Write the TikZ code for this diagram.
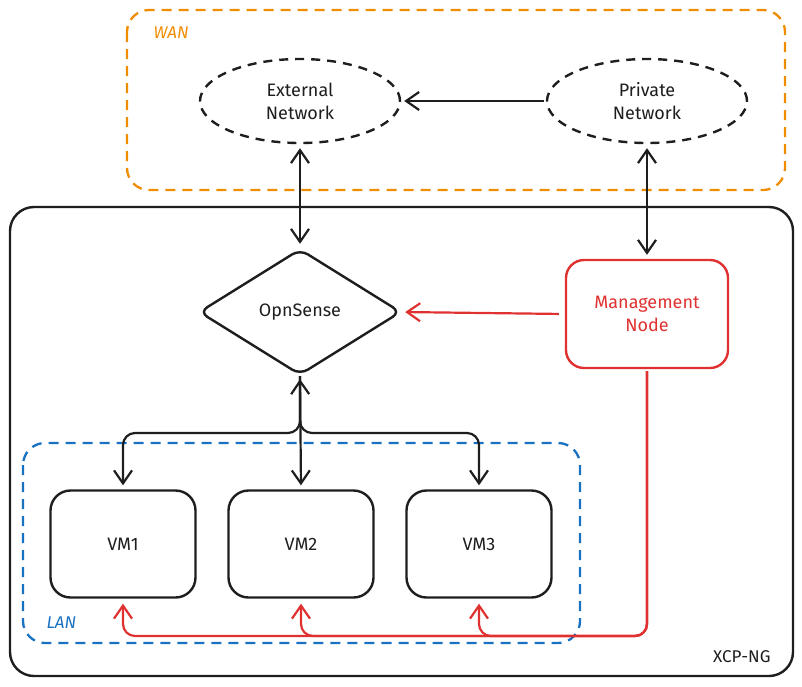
\documentclass[tikz,border=0pt]{standalone}
\usepackage{fontspec}
\setmainfont{Fira Sans}
\usetikzlibrary{shapes.geometric,arrows.meta}
\definecolor{ink}{HTML}{1E1E1E}
\definecolor{wanc}{HTML}{F08C00}
\definecolor{lanc}{HTML}{1971C2}
\definecolor{mgc}{HTML}{E03131}
\tikzset{
  barb/.tip={Straight Barb[length=13pt,width=18pt,line width=2.2pt]},
  conn/.style={line width=2.2pt, draw=ink},
  dashbox/.style={line width=2.3pt, dash pattern=on 10pt off 7pt, rounded corners=22pt},
  vmbox/.style={draw=ink, line width=2.4pt, rounded corners=20pt, minimum width=145pt, minimum height=107pt, font=\fontsize{18}{21}\selectfont, text=ink},
  cloud/.style={draw=ink, ellipse, line width=2.4pt, dash pattern=on 9pt off 7pt, minimum width=200pt, minimum height=84pt, align=center, font=\fontsize{18}{23}\selectfont, text=ink},
  grp/.style={font=\itshape\fontsize{17}{20}\selectfont},
}
\begin{document}
\begin{tikzpicture}[x=1pt,y=-1pt]
\useasboundingbox (0,0) rectangle (802,686);
% group boxes
\draw[dashbox, draw=wanc] (127,10) rectangle (785,190);
\node[grp, text=wanc, anchor=west] (wanl) at (150,33) {WAN};
\draw[draw=ink, line width=2.4pt, rounded corners=24pt] (10,207) rectangle (793,676);
\node[font=\fontsize{17}{20}\selectfont, text=ink, anchor=east] (xcpl) at (774,657) {XCP-NG};
\draw[dashbox, draw=lanc] (23,443) rectangle (580,643);
\node[grp, text=lanc, anchor=west] (lanl) at (43,623) {LAN};
% nodes
\node[cloud] (ext) at (300,101) {External\\Network};
\node[cloud] (priv) at (647,101) {Private\\Network};
\node[draw=ink, line width=2.4pt, diamond, aspect=1.6, rounded corners=9pt, inner sep=0pt, minimum width=202pt, minimum height=126pt, font=\fontsize{18}{21}\selectfont, text=ink] (ops) at (300,312) {OpnSense};
\node[draw=mgc, line width=2.4pt, rounded corners=18pt, minimum width=162pt, minimum height=108pt, align=center, text=mgc, font=\fontsize{18}{23}\selectfont] (mgmt) at (647,314) {Management\\Node};
\node[vmbox] (vm1) at (123,544) {VM1};
\node[vmbox] (vm2) at (301,544) {VM2};
\node[vmbox] (vm3) at (479,544) {VM3};
\coordinate (bus) at (300,433);
\coordinate (rbus) at (123,636);
% connectors
\draw[conn, -{barb}, shorten >=3pt, shorten <=2pt] (priv.west) -- (ext.east);
\draw[conn, {barb}-{barb}, shorten >=4pt, shorten <=4pt] (ext.south) -- (ops.north);
\draw[conn, {barb}-{barb}, shorten >=4pt, shorten <=4pt] (priv.south) -- (mgmt.north);
\draw[conn, draw=mgc, -{barb}, shorten >=3pt, shorten <=6pt] (mgmt.west) -- (ops.east);
\draw[conn, {barb}-{barb}, shorten >=4pt, shorten <=3pt] (ops.south) -- (vm2.north);
\draw[conn, -{barb}, rounded corners=12pt, shorten >=4pt] (ops.south) -- (bus) -| (vm1.north);
\draw[conn, -{barb}, rounded corners=12pt, shorten >=4pt] (ops.south) -- (bus) -| (vm3.north);
\draw[conn, draw=mgc, -{barb}, rounded corners=12pt, shorten >=5pt, shorten <=2pt] (mgmt.south) |- (rbus) -- (vm1.south);
\draw[conn, draw=mgc, -{barb}, rounded corners=12pt, shorten >=5pt, shorten <=2pt] (mgmt.south) |- (vm2.south |- rbus) -- (vm2.south);
\draw[conn, draw=mgc, -{barb}, rounded corners=12pt, shorten >=5pt, shorten <=2pt] (mgmt.south) |- (vm3.south |- rbus) -- (vm3.south);
\end{tikzpicture}
\end{document}
